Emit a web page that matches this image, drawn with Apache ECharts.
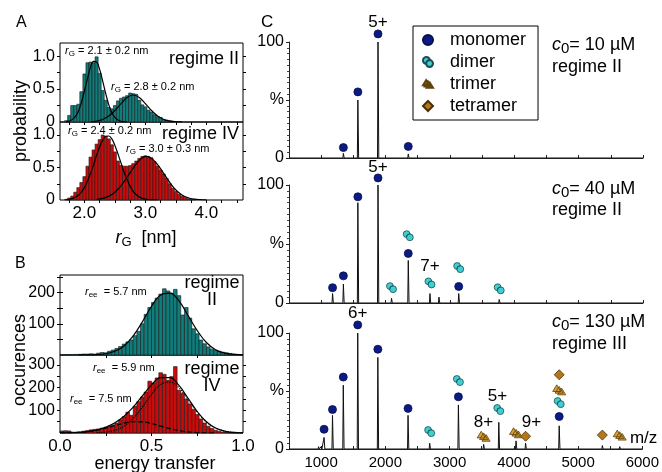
<!DOCTYPE html>
<html>
<head>
<meta charset="utf-8">
<title>Size distributions and native mass spectra</title>
<script src="https://cdn.jsdelivr.net/npm/echarts@6.0.0/dist/echarts.min.js"></script>
<style>
  html, body { margin: 0; padding: 0; background: #fff; }
  #chart { width: 662px; height: 472px; }
</style>
</head>
<body>
<div id="chart"></div>
<script>
const FONT = '"Liberation Sans", Arial, sans-serif';

// ---------- Panel A: radius of gyration histograms ----------
const rgBinWidth = 0.05;
const rgCentersII = [1.70,1.75,1.80,1.85,1.90,1.95,2.00,2.05,2.10,2.15,2.20,2.25,2.30,2.35,2.40,2.45,2.50,2.55,2.60,2.65,2.70,2.75,2.80,2.85,2.90,2.95,3.00,3.05,3.10,3.15,3.20,3.25,3.30,3.35,3.40,3.45];
const rgProbII = [0.02,0.10,0.25,0.25,0.27,0.46,0.73,0.90,0.91,0.90,0.99,0.74,0.48,0.33,0.22,0.20,0.25,0.32,0.36,0.38,0.40,0.44,0.43,0.42,0.33,0.26,0.23,0.18,0.15,0.11,0.08,0.07,0.04,0.03,0.02,0.01];
const rgCentersIV = [1.70,1.75,1.80,1.85,1.90,1.95,2.00,2.05,2.10,2.15,2.20,2.25,2.30,2.35,2.40,2.45,2.50,2.55,2.60,2.65,2.70,2.75,2.80,2.85,2.90,2.95,3.00,3.05,3.10,3.15,3.20,3.25,3.30,3.35,3.40,3.45,3.50,3.55,3.60,3.65,3.70,3.75,3.80];
const rgProbIV = [0.01,0.03,0.06,0.12,0.19,0.27,0.36,0.52,0.66,0.77,0.86,0.93,1.00,0.98,0.94,0.85,0.74,0.60,0.53,0.52,0.52,0.53,0.56,0.60,0.64,0.67,0.68,0.67,0.65,0.59,0.52,0.46,0.40,0.33,0.25,0.18,0.13,0.09,0.06,0.04,0.02,0.01,0.01];

// Gaussian fit curves (r_G, probability)
const fitRgII_small = [[1.70,0.005],[1.75,0.014],[1.80,0.036],[1.85,0.08],[1.90,0.16],[1.95,0.29],[2.00,0.47],[2.05,0.66],[2.10,0.83],[2.15,0.92],[2.20,0.91],[2.25,0.80],[2.30,0.62],[2.35,0.43],[2.40,0.26],[2.45,0.14],[2.50,0.07],[2.55,0.03],[2.60,0.011],[2.65,0.004],[2.70,0.001]];
const fitRgII_large = [[2.10,0.004],[2.20,0.014],[2.30,0.039],[2.40,0.09],[2.50,0.175],[2.60,0.28],[2.70,0.373],[2.80,0.41],[2.90,0.373],[3.00,0.28],[3.10,0.175],[3.20,0.09],[3.30,0.039],[3.40,0.014],[3.50,0.004],[3.60,0.001]];
const fitRgIV_small = [[1.70,0.005],[1.75,0.011],[1.80,0.022],[1.85,0.041],[1.90,0.073],[1.95,0.12],[2.00,0.19],[2.05,0.29],[2.10,0.41],[2.15,0.54],[2.20,0.69],[2.25,0.82],[2.30,0.92],[2.35,0.98],[2.40,0.985],[2.45,0.94],[2.50,0.84],[2.55,0.71],[2.60,0.57],[2.65,0.43],[2.70,0.31],[2.75,0.21],[2.80,0.134],[2.85,0.081],[2.90,0.046],[2.95,0.025],[3.00,0.013],[3.05,0.006],[3.10,0.003],[3.20,0.001]];
const fitRgIV_large = [[2.20,0.009],[2.30,0.025],[2.40,0.058],[2.50,0.12],[2.60,0.22],[2.70,0.35],[2.80,0.49],[2.90,0.61],[3.00,0.67],[3.10,0.64],[3.20,0.545],[3.30,0.41],[3.40,0.27],[3.50,0.154],[3.60,0.078],[3.70,0.035],[3.80,0.014],[3.90,0.005],[4.00,0.001]];

const rgTickValues = [1.75,2,2.25,2.5,2.75,3,3.25,3.5,3.75,4,4.25,4.5];
const rgLabelValues = [2,3,4];
const probTickValues = [0.25,0.5,0.75,1];
const probLabelValues = [0,0.5,1];

// ---------- Panel B: energy transfer histograms ----------
const etBinWidth = 0.02;
const etCenters = [0.01,0.03,0.05,0.07,0.09,0.11,0.13,0.15,0.17,0.19,0.21,0.23,0.25,0.27,0.29,0.31,0.33,0.35,0.37,0.39,0.41,0.43,0.45,0.47,0.49,0.51,0.53,0.55,0.57,0.59,0.61,0.63,0.65,0.67,0.69,0.71,0.73,0.75,0.77,0.79,0.81,0.83,0.85,0.87,0.89,0.91,0.93,0.95,0.97,0.99];
const etCountII = [0,0,1,1,2,2,3,3,4,3,6,8,7,12,16,21,27,35,42,48,62,76,100,130,152,168,182,195,212,205,198,210,190,128,152,118,84,68,48,36,26,19,15,12,9,7,5,3,2,1];
const etCountIV = [9,10,9,4,3,5,8,11,14,16,18,22,26,30,36,44,58,72,92,78,118,138,158,180,228,220,242,265,258,232,248,292,188,175,150,128,104,82,62,44,30,20,12,7,4,2,1,0,0,0];

const fitEtII = [[0.10,0.1],[0.15,0.3],[0.20,1.2],[0.25,4],[0.30,12],[0.35,29],[0.40,61],[0.45,106],[0.50,156],[0.55,192],[0.60,198],[0.65,173],[0.70,126],[0.75,78],[0.80,40],[0.85,17],[0.90,6],[0.95,2],[1.00,0.5]];
const fitEtIV_total = [[0.00,0.3],[0.05,0.9],[0.10,2.4],[0.15,5.8],[0.20,13.1],[0.25,25.4],[0.30,44.8],[0.35,73.8],[0.40,113.7],[0.45,162.7],[0.50,211.4],[0.55,243.1],[0.60,243.2],[0.65,209],[0.70,152.7],[0.75,94.5],[0.80,49.3],[0.85,21.7],[0.90,8],[0.95,2.5],[1.00,0.65]];
const fitEtIV_59 = [[0.20,1.1],[0.25,4.1],[0.30,12.1],[0.35,30.5],[0.40,64.3],[0.45,114],[0.50,170],[0.55,212.8],[0.60,224],[0.65,198.5],[0.70,147.8],[0.75,92.5],[0.80,48.6],[0.85,21.5],[0.90,8],[0.95,2.5],[1.00,0.65]];
const fitEtIV_75 = [[0.00,0.3],[0.05,0.9],[0.10,2.4],[0.15,5.8],[0.20,12],[0.25,21.3],[0.30,32.7],[0.35,43.3],[0.40,49.4],[0.45,48.7],[0.50,41.4],[0.55,30.3],[0.60,19.2],[0.65,10.5],[0.70,4.9],[0.75,2],[0.80,0.7],[0.85,0.2]];

const etTickValues = [0.25,0.5,0.75];
const etLabelValues = [0,0.5,1];
const occTickValuesII = [50,100,150,200,250];
const occLabelValuesII = [100,200];
const occTickValuesIV = [50,100,150,200,250,300];
const occLabelValuesIV = [100,200,300];

// ---------- Panel C: mass spectra (m/z, relative intensity %) ----------
const specMz10 = [1345,1570,1883,2353];
const specInt10 = [4,50,100,3.5];
const specMz40 = [1177,1345,1570,1883,2093,2353,2690,2830,3137,3766];
const specInt40 = [8,16,85,100,4,36,8,5,8,3];
const specMz130 = [960,1000,1046,1177,1345,1570,1883,2353,2690,3137,3530,3766,4034,4183,4706,5150,5250,5378,5648];
const specInt130 = [2,2,10,29,55,100,79,29,5,38,4,23,7,5,20,1,1.5,3,2];

// assignment symbols, [m/z, height]
const mono10 = [[1345,9],[1570,57],[1883,107],[2353,10]];
const mono40 = [[1177,13],[1345,23],[1570,90],[1883,106],[2353,42],[3137,14]];
const dimer40 = [[2093,13],[2353,57],[2690,17],[3137,30],[3766,12]];
const mono130 = [[1046,17],[1177,34],[1345,62],[1570,107],[1883,86],[2353,35],[3137,45],[4706,28]];
const dimer130 = [[2690,15],[3137,59],[3766,34],[4706,40]];
const trimer130 = [[3530,11],[4034,14],[4706,51],[5648,12]];
const tetramer130 = [[4183,11],[4706,64],[5378,12]];

// charge state annotations, [m/z, height, text]
const charge10 = [[1883,117,'5+']];
const charge40 = [[1883,115,'5+'],[2690,31,'7+']];
const charge130 = [[1570,117,'6+'],[3528,23,'8+'],[3745,45,'5+'],[4273,23,'9+']];

const mzLabelValues = [1000,2000,3000,4000,5000,6000];

// ---------- styles ----------
const TEAL = '#0f7d7b';
const RED = '#c80c0c';
const DIMER_PATH = 'path://M12.48,6.52A5.5,5.5 0 1,0 6.52,12.48A5.5,5.5 0 0,1 12.48,6.52Z M6.5,12A5.5,5.5 0 1,0 17.5,12A5.5,5.5 0 1,0 6.5,12Z';
const TRIMER_PATH = 'path://M5,0L10,8L0,8Z M8,2L13,10L3,10Z M11,4L16,12L6,12Z';
const SPECIES = {
  monomer:  { symbol: 'circle',   size: 8,       color: '#0c1a85', border: '#06104a' },
  dimer:    { symbol: DIMER_PATH, size: 10,      color: '#3ecfd0', border: '#1a4c55' },
  trimer:   { symbol: TRIMER_PATH, size: [13,10], color: '#d9a030', border: '#5e410c' },
  tetramer: { symbol: 'diamond',  size: 10,      color: '#b5761a', border: '#4a300a' }
};

const black = { color: '#000', width: 1 };
const noLine = { show: false };
const noSplit = { show: false };

function hist(xi, yi, centers, values, binWidth, fill) {
  return {
    type: 'custom', xAxisIndex: xi, yAxisIndex: yi, silent: true, z: 2,
    data: centers.map((c, i) => [c, values[i]]),
    encode: { x: 0, y: 1 },
    renderItem: function (params, api) {
      const x = api.value(0), y = api.value(1);
      const a = api.coord([x - binWidth / 2, y]);
      const b = api.coord([x + binWidth / 2, 0]);
      return {
        type: 'rect',
        shape: { x: a[0], y: a[1], width: b[0] - a[0], height: b[1] - a[1] },
        style: { fill: fill, stroke: '#1a1a1a', lineWidth: 0.6 }
      };
    }
  };
}

function curve(xi, yi, pts, dash) {
  return {
    type: 'line', xAxisIndex: xi, yAxisIndex: yi, data: pts, smooth: 0.4,
    symbol: 'none', silent: true, z: 3,
    lineStyle: { color: '#000', width: 1.2, type: dash || 'solid' }
  };
}

function spectrum(xi, yi, mz, ints) {
  const pts = [[500, 0]];
  mz.forEach((m, i) => { pts.push([m - 8, 0], [m, ints[i]], [m + 12, 0]); });
  pts.push([6000, 0]);
  return {
    type: 'line', xAxisIndex: xi, yAxisIndex: yi, data: pts, symbol: 'none',
    silent: true, z: 3, lineStyle: { color: '#111', width: 1 }
  };
}

function markers(name, xi, yi, pts) {
  const s = SPECIES[name];
  return {
    type: 'scatter', name: name, xAxisIndex: xi, yAxisIndex: yi, data: pts,
    symbol: s.symbol, symbolSize: s.size, clip: false, silent: true, z: 5,
    itemStyle: { color: s.color, borderColor: s.border, borderWidth: 0.8, opacity: 1 }
  };
}

function charges(xi, yi, pts) {
  return {
    type: 'scatter', xAxisIndex: xi, yAxisIndex: yi, data: pts, symbolSize: 0,
    clip: false, silent: true, z: 6,
    itemStyle: { color: '#000', opacity: 1 },
    label: {
      show: true, position: 'inside', formatter: p => p.data[2],
      fontFamily: FONT, fontSize: 17, color: '#000', opacity: 1,
      textBorderWidth: 0
    }
  };
}

// x axis of a boxed panel
function boxX(grid, min, max, o) {
  return Object.assign({
    type: 'value', gridIndex: grid, min: min, max: max,
    axisLine: noLine, splitLine: noSplit,
    axisTick: { show: false }, axisLabel: { show: false }
  }, o);
}
function boxY(grid, min, max, o) {
  return Object.assign({
    type: 'value', gridIndex: grid, min: min, max: max,
    axisLine: noLine, splitLine: noSplit,
    axisTick: { show: false }, axisLabel: { show: false }
  }, o);
}
const tickOut = vals => ({ show: true, length: 3, customValues: vals, lineStyle: black });
const tickIn = vals => ({ show: true, inside: true, length: 3, customValues: vals, lineStyle: black });
const lab = (vals, fmt, size) => ({
  show: true, customValues: vals, formatter: fmt, fontFamily: FONT,
  fontSize: size, color: '#000', margin: 5
});
const fmtProb = v => (v === 0 ? '0' : v.toFixed(1));
const fmt1 = v => v.toFixed(1);

function specX(grid, showLabels) {
  const ax = {
    type: 'value', gridIndex: grid, min: 500, max: 6000, interval: 500,
    axisLine: { show: true, lineStyle: { color: '#222', width: 1 } },
    axisTick: { show: true, inside: true, length: 3, lineStyle: { color: '#222' } },
    splitLine: noSplit,
    axisLabel: { show: false }
  };
  if (showLabels) {
    ax.axisLabel = {
      show: true, customValues: mzLabelValues, formatter: v => String(v),
      fontFamily: FONT, fontSize: 15, color: '#000', margin: 6
    };
    ax.name = 'm/z';
    ax.nameLocation = 'end';
    ax.nameGap = 15;
    ax.nameTextStyle = {
      fontFamily: FONT, fontSize: 17, color: '#000',
      align: 'right', verticalAlign: 'bottom', padding: [0, 0, 2, 0]
    };
  }
  return ax;
}
function specY(grid) {
  return {
    type: 'value', gridIndex: grid, min: 0, max: 100, interval: 50,
    axisLine: { show: true, lineStyle: { color: '#222', width: 1 } },
    axisTick: { show: true, length: 3, lineStyle: { color: '#222' } },
    minorTick: { show: true, splitNumber: 10, length: 2, lineStyle: { color: '#444' } },
    splitLine: noSplit, minorSplitLine: { show: false },
    axisLabel: {
      formatter: v => (v === 50 ? '%' : String(v)),
      fontFamily: FONT, fontSize: 16, color: '#000', margin: 5
    }
  };
}

const boxGrid = (left, top, width, height) => ({
  left, top, width, height, show: true, borderColor: '#000', borderWidth: 1,
  backgroundColor: 'transparent', containLabel: false
});
const plainGrid = (left, top, width, height) => ({ left, top, width, height, containLabel: false });

// rich text pieces
const subStyles = (size, subSize, lh) => ({
  i: { fontFamily: FONT, fontSize: size, fontStyle: 'italic', lineHeight: lh, verticalAlign: 'middle' },
  n: { fontFamily: FONT, fontSize: size, lineHeight: lh, verticalAlign: 'middle' },
  s: { fontFamily: FONT, fontSize: subSize, lineHeight: Math.round(subSize), verticalAlign: 'bottom' }
});
const smallRich = subStyles(11, 8, 15);
const bigRich = subStyles(18, 13, 22);
const concRich = subStyles(18, 15, 22);

function txt(left, top, text, size, rich) {
  return {
    type: 'text', left: left, top: top, silent: true,
    style: { text: text, rich: rich, fill: '#000', font: size + 'px ' + FONT }
  };
}
function ctext(x, y, text, size, align, rich, rotation, lineHeight) {
  return {
    type: 'text', x: x, y: y, rotation: rotation || 0, silent: true,
    style: {
      text: text, rich: rich, fill: '#000', font: size + 'px ' + FONT,
      align: align || 'center', verticalAlign: 'middle', lineHeight: lineHeight
    }
  };
}

const option = {
  animation: false,
  backgroundColor: '#fff',
  textStyle: { fontFamily: FONT },
  grid: [
    boxGrid(60, 43, 183, 79),    // A, regime II
    boxGrid(60, 122, 183, 78),   // A, regime IV
    boxGrid(60, 275, 183, 80),   // B, regime II
    boxGrid(60, 355, 183, 78),   // B, regime IV
    plainGrid(289, 42, 354, 116),  // C, 10 uM
    plainGrid(289, 185, 354, 118), // C, 40 uM
    plainGrid(289, 333, 354, 116)  // C, 130 uM
  ],
  xAxis: [
    boxX(0, 1.6, 4.6),
    boxX(0, 1.6, 4.6, { position: 'top', axisTick: tickIn(rgTickValues) }),
    boxX(1, 1.6, 4.6, { axisTick: tickOut(rgTickValues), axisLabel: lab(rgLabelValues, fmt1, 17) }),
    boxX(2, 0, 1),
    boxX(2, 0, 1, { position: 'top', axisTick: tickIn(etTickValues) }),
    boxX(3, 0, 1, { axisTick: tickOut(etTickValues), axisLabel: lab(etLabelValues, fmt1, 17) }),
    specX(4, false),
    specX(5, false),
    specX(6, true)
  ],
  yAxis: [
    boxY(0, 0, 1.2, { axisTick: tickOut(probTickValues), axisLabel: lab(probLabelValues, fmtProb, 16) }),
    boxY(0, 0, 1.2, { position: 'right', axisTick: tickOut(probTickValues) }),
    boxY(1, 0, 1.2, { axisTick: tickOut(probTickValues), axisLabel: lab(probLabelValues, fmtProb, 16) }),
    boxY(1, 0, 1.2, { position: 'right', axisTick: tickOut(probTickValues) }),
    boxY(2, 0, 256, { axisTick: tickOut(occTickValuesII), axisLabel: lab(occLabelValuesII, v => String(v), 16) }),
    boxY(2, 0, 256, { position: 'right', axisTick: tickOut(occTickValuesII) }),
    boxY(3, 0, 343, { axisTick: tickOut(occTickValuesIV), axisLabel: lab(occLabelValuesIV, v => String(v), 16) }),
    boxY(3, 0, 343, { position: 'right', axisTick: tickOut(occTickValuesIV) }),
    specY(4),
    specY(5),
    specY(6)
  ],
  legend: {
    data: [
      { name: 'monomer', icon: 'circle' },
      { name: 'dimer', icon: DIMER_PATH },
      { name: 'trimer', icon: TRIMER_PATH },
      { name: 'tetramer', icon: 'diamond' }
    ],
    orient: 'vertical', left: 413, top: 26,
    padding: [4, 12, 4, 9], itemGap: 2, itemWidth: 10, itemHeight: 10,
    borderColor: '#000', borderWidth: 1, backgroundColor: '#fff',
    selectedMode: false,
    textStyle: { fontFamily: FONT, fontSize: 18, color: '#000', lineHeight: 20, padding: [0, 0, 0, 12] }
  },
  series: [
    hist(0, 0, rgCentersII, rgProbII, rgBinWidth, TEAL),
    curve(0, 0, fitRgII_small),
    curve(0, 0, fitRgII_large),
    hist(2, 2, rgCentersIV, rgProbIV, rgBinWidth, RED),
    curve(2, 2, fitRgIV_small),
    curve(2, 2, fitRgIV_large),
    hist(3, 4, etCenters, etCountII, etBinWidth, TEAL),
    curve(3, 4, fitEtII),
    hist(5, 6, etCenters, etCountIV, etBinWidth, RED),
    curve(5, 6, fitEtIV_total),
    curve(5, 6, fitEtIV_59, 'dotted'),
    curve(5, 6, fitEtIV_75, 'dashed'),
    spectrum(6, 8, specMz10, specInt10),
    spectrum(7, 9, specMz40, specInt40),
    spectrum(8, 10, specMz130, specInt130),
    markers('monomer', 6, 8, mono10),
    markers('monomer', 7, 9, mono40),
    markers('dimer', 7, 9, dimer40),
    markers('monomer', 8, 10, mono130),
    markers('dimer', 8, 10, dimer130),
    markers('trimer', 8, 10, trimer130),
    markers('tetramer', 8, 10, tetramer130),
    charges(6, 8, charge10),
    charges(7, 9, charge40),
    charges(8, 10, charge130)
  ],
  graphic: [
    txt(16, 15, 'A', 16),
    txt(15, 256, 'B', 16),
    txt(261, 14, 'C', 17),
    ctext(21, 121, 'probability', 18, 'center', null, Math.PI / 2),
    ctext(20, 360, 'occurences', 18, 'center', null, Math.PI / 2),
    ctext(146, 238, '{i|r}{s|G}{n|  [nm]}', 18, 'center', bigRich),
    ctext(155, 464, 'energy transfer', 18),
    // panel A annotations
    txt(65, 45, '{i|r}{s|G}{n| = 2.1 ± 0.2 nm}', 11, smallRich),
    txt(111, 81, '{i|r}{s|G}{n| = 2.8 ± 0.2 nm}', 11, smallRich),
    ctext(239, 59, 'regime II', 18, 'right'),
    txt(68, 125, '{i|r}{s|G}{n| = 2.4 ± 0.2 nm}', 11, smallRich),
    txt(126, 143, '{i|r}{s|G}{n| = 3.0 ± 0.3 nm}', 11, smallRich),
    ctext(239, 134, 'regime IV', 18, 'right'),
    // panel B annotations
    txt(85, 286, '{i|r}{s|ee}{n|  = 5.7 nm}', 11, smallRich),
    ctext(212, 292, 'regime\nII', 18, 'center', null, 0, 17),
    txt(93, 362, '{i|r}{s|ee}{n|  = 5.9 nm}', 11, smallRich),
    txt(70, 393, '{i|r}{s|ee}{n|  = 7.5 nm}', 11, smallRich),
    ctext(212, 378, 'regime\nIV', 18, 'center', null, 0, 17),
    // panel C conditions
    txt(552, 36, '{i|c}{s|0}{n|= 10 µM}', 18, concRich),
    txt(552, 58, 'regime II', 18),
    txt(552, 180, '{i|c}{s|0}{n|= 40 µM}', 18, concRich),
    txt(552, 201, 'regime II', 18),
    txt(552, 313, '{i|c}{s|0}{n|= 130 µM}', 18, concRich),
    txt(552, 335, 'regime III', 18)
  ]
};

const chart = echarts.init(document.getElementById('chart'), null, { renderer: 'canvas' });
chart.setOption(option);
</script>
</body>
</html>
